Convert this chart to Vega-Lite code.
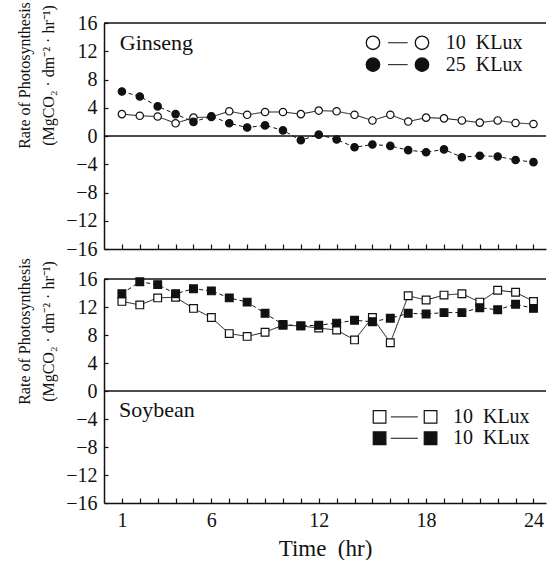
{
  "$schema": "https://vega.github.io/schema/vega-lite/v6.json",
  "padding": {"left": 16, "top": 1, "right": 0, "bottom": 0},
  "background": "white",
  "spacing": 30,
  "bounds": "flush",
  "config": {
    "font": "Liberation Serif",
    "view": {"stroke": null},
    "axis": {"labelFont": "Liberation Serif", "titleFont": "Liberation Serif", "titleFontWeight": "normal", "labelColor": "#111", "titleColor": "#111", "domainColor": "#111", "tickColor": "#111", "grid": false}
  },
  "datasets": {
    "ginseng": [
      {"hour":1,"rate":3.1,"series":"open","light":"10 KLux"},{"hour":2,"rate":2.86,"series":"open","light":"10 KLux"},{"hour":3,"rate":2.76,"series":"open","light":"10 KLux"},{"hour":4,"rate":1.8,"series":"open","light":"10 KLux"},{"hour":5,"rate":2.6,"series":"open","light":"10 KLux"},{"hour":6,"rate":2.7,"series":"open","light":"10 KLux"},{"hour":7,"rate":3.5,"series":"open","light":"10 KLux"},{"hour":8,"rate":3.0,"series":"open","light":"10 KLux"},{"hour":9,"rate":3.4,"series":"open","light":"10 KLux"},{"hour":10,"rate":3.4,"series":"open","light":"10 KLux"},{"hour":11,"rate":3.1,"series":"open","light":"10 KLux"},{"hour":12,"rate":3.6,"series":"open","light":"10 KLux"},{"hour":13,"rate":3.5,"series":"open","light":"10 KLux"},{"hour":14,"rate":3.0,"series":"open","light":"10 KLux"},{"hour":15,"rate":2.2,"series":"open","light":"10 KLux"},{"hour":16,"rate":3.0,"series":"open","light":"10 KLux"},{"hour":17,"rate":2.05,"series":"open","light":"10 KLux"},{"hour":18,"rate":2.6,"series":"open","light":"10 KLux"},{"hour":19,"rate":2.5,"series":"open","light":"10 KLux"},{"hour":20,"rate":2.2,"series":"open","light":"10 KLux"},{"hour":21,"rate":1.9,"series":"open","light":"10 KLux"},{"hour":22,"rate":2.2,"series":"open","light":"10 KLux"},{"hour":23,"rate":1.85,"series":"open","light":"10 KLux"},{"hour":24,"rate":1.7,"series":"open","light":"10 KLux"},
      {"hour":1,"rate":6.3,"series":"filled","light":"25 KLux"},{"hour":2,"rate":5.6,"series":"filled","light":"25 KLux"},{"hour":3,"rate":4.2,"series":"filled","light":"25 KLux"},{"hour":4,"rate":3.1,"series":"filled","light":"25 KLux"},{"hour":5,"rate":2.0,"series":"filled","light":"25 KLux"},{"hour":6,"rate":2.8,"series":"filled","light":"25 KLux"},{"hour":7,"rate":1.8,"series":"filled","light":"25 KLux"},{"hour":8,"rate":1.2,"series":"filled","light":"25 KLux"},{"hour":9,"rate":1.5,"series":"filled","light":"25 KLux"},{"hour":10,"rate":0.8,"series":"filled","light":"25 KLux"},{"hour":11,"rate":-0.6,"series":"filled","light":"25 KLux"},{"hour":12,"rate":0.2,"series":"filled","light":"25 KLux"},{"hour":13,"rate":-0.5,"series":"filled","light":"25 KLux"},{"hour":14,"rate":-1.6,"series":"filled","light":"25 KLux"},{"hour":15,"rate":-1.2,"series":"filled","light":"25 KLux"},{"hour":16,"rate":-1.4,"series":"filled","light":"25 KLux"},{"hour":17,"rate":-2.0,"series":"filled","light":"25 KLux"},{"hour":18,"rate":-2.3,"series":"filled","light":"25 KLux"},{"hour":19,"rate":-1.9,"series":"filled","light":"25 KLux"},{"hour":20,"rate":-3.0,"series":"filled","light":"25 KLux"},{"hour":21,"rate":-2.8,"series":"filled","light":"25 KLux"},{"hour":22,"rate":-2.9,"series":"filled","light":"25 KLux"},{"hour":23,"rate":-3.4,"series":"filled","light":"25 KLux"},{"hour":24,"rate":-3.7,"series":"filled","light":"25 KLux"}
    ],
    "soybean": [
      {"hour":1,"rate":12.8,"series":"open","light":"10 KLux"},{"hour":2,"rate":12.3,"series":"open","light":"10 KLux"},{"hour":3,"rate":13.3,"series":"open","light":"10 KLux"},{"hour":4,"rate":13.4,"series":"open","light":"10 KLux"},{"hour":5,"rate":11.8,"series":"open","light":"10 KLux"},{"hour":6,"rate":10.5,"series":"open","light":"10 KLux"},{"hour":7,"rate":8.2,"series":"open","light":"10 KLux"},{"hour":8,"rate":7.8,"series":"open","light":"10 KLux"},{"hour":9,"rate":8.4,"series":"open","light":"10 KLux"},{"hour":10,"rate":9.4,"series":"open","light":"10 KLux"},{"hour":11,"rate":9.3,"series":"open","light":"10 KLux"},{"hour":12,"rate":9.0,"series":"open","light":"10 KLux"},{"hour":13,"rate":8.7,"series":"open","light":"10 KLux"},{"hour":14,"rate":7.3,"series":"open","light":"10 KLux"},{"hour":15,"rate":10.5,"series":"open","light":"10 KLux"},{"hour":16,"rate":6.9,"series":"open","light":"10 KLux"},{"hour":17,"rate":13.6,"series":"open","light":"10 KLux"},{"hour":18,"rate":13.0,"series":"open","light":"10 KLux"},{"hour":19,"rate":13.7,"series":"open","light":"10 KLux"},{"hour":20,"rate":13.9,"series":"open","light":"10 KLux"},{"hour":21,"rate":12.7,"series":"open","light":"10 KLux"},{"hour":22,"rate":14.4,"series":"open","light":"10 KLux"},{"hour":23,"rate":14.1,"series":"open","light":"10 KLux"},{"hour":24,"rate":12.8,"series":"open","light":"10 KLux"},
      {"hour":1,"rate":13.9,"series":"filled","light":"10 KLux"},{"hour":2,"rate":15.6,"series":"filled","light":"10 KLux"},{"hour":3,"rate":15.2,"series":"filled","light":"10 KLux"},{"hour":4,"rate":13.9,"series":"filled","light":"10 KLux"},{"hour":5,"rate":14.6,"series":"filled","light":"10 KLux"},{"hour":6,"rate":14.3,"series":"filled","light":"10 KLux"},{"hour":7,"rate":13.3,"series":"filled","light":"10 KLux"},{"hour":8,"rate":12.7,"series":"filled","light":"10 KLux"},{"hour":9,"rate":11.1,"series":"filled","light":"10 KLux"},{"hour":10,"rate":9.5,"series":"filled","light":"10 KLux"},{"hour":11,"rate":9.3,"series":"filled","light":"10 KLux"},{"hour":12,"rate":9.4,"series":"filled","light":"10 KLux"},{"hour":13,"rate":9.7,"series":"filled","light":"10 KLux"},{"hour":14,"rate":10.1,"series":"filled","light":"10 KLux"},{"hour":15,"rate":9.9,"series":"filled","light":"10 KLux"},{"hour":16,"rate":10.4,"series":"filled","light":"10 KLux"},{"hour":17,"rate":11.1,"series":"filled","light":"10 KLux"},{"hour":18,"rate":11.0,"series":"filled","light":"10 KLux"},{"hour":19,"rate":11.2,"series":"filled","light":"10 KLux"},{"hour":20,"rate":11.2,"series":"filled","light":"10 KLux"},{"hour":21,"rate":11.9,"series":"filled","light":"10 KLux"},{"hour":22,"rate":11.6,"series":"filled","light":"10 KLux"},{"hour":23,"rate":12.4,"series":"filled","light":"10 KLux"},{"hour":24,"rate":11.8,"series":"filled","light":"10 KLux"}
    ]
  },
  "vconcat": [
    {
      "width": 442, "height": 226,
      "resolve": {"axis": {"x": "independent", "y": "independent"}},
      "layer": [
        {
          "data": {"name": "ginseng"},
          "mark": {"type": "line", "color": "#111", "strokeWidth": 1},
          "encoding": {
            "x": {"field": "hour", "type": "quantitative", "scale": {"domain": [0, 24.7], "nice": false, "zero": false},
                  "axis": {"values": [1,2,3,4,5,6,7,8,9,10,11,12,13,14,15,16,17,18,19,20,21,22,23,24], "labels": false, "ticks": true, "tickSize": -5, "tickWidth": 1.2, "tickColor": "#111",
                           "domainColor": "#111", "domainWidth": 1.5, "grid": false, "title": null}},
            "y": {"field": "rate", "type": "quantitative", "scale": {"domain": [-16, 16], "nice": false},
                  "axis": {"values": [-16,-12,-8,-4,0,4,8,12,16], "ticks": true, "tickSize": -4, "tickWidth": 1.2, "tickColor": "#111", "labelPadding": 11, "labelOverlap": false, "labelBound": false,
                           "labelFont": "Liberation Serif", "labelFontSize": 20, "labelColor": "#111",
                           "domainColor": "#111", "domainWidth": 1.5, "grid": false,
                           "labelExpr": "datum.value < 0 ? '−' + abs(datum.value) : datum.label",
                           "title": ["Rate of Photosynthesis", "(MgCO₂ · dm⁻² · hr⁻¹)"], "titleFont": "Liberation Serif", "titleFontSize": 16, "titleFontWeight": "normal", "titleColor": "#111",
                           "titleLineHeight": 24, "titlePadding": 9, "titleY": 52}},
            "detail": {"field": "series"},
            "strokeDash": {"field": "series", "type": "nominal", "scale": {"domain": ["open", "filled"], "range": [[1, 0], [4, 3]]}, "legend": null}
          }
        },
        {"data": {"values": [{}]}, "mark": {"type": "rule", "color": "#111", "strokeWidth": 1.3}, "encoding": {"y": {"datum": 0, "type": "quantitative", "axis": null}}},
        {"data": {"values": [{}]}, "mark": {"type": "rule", "color": "#111", "strokeWidth": 1.3}, "encoding": {"y": {"datum": 16, "type": "quantitative", "axis": null}}},
        {
          "data": {"name": "ginseng"},
          "mark": {"type": "point", "shape": "circle", "filled": true, "stroke": "#111", "strokeWidth": 1.2, "size": 55, "opacity": 1},
          "encoding": {
            "x": {"field": "hour", "type": "quantitative", "axis": null},
            "y": {"field": "rate", "type": "quantitative", "axis": null},
            "fill": {"field": "series", "type": "nominal", "scale": {"domain": ["open", "filled"], "range": ["white", "#111"]}, "legend": null}
          }
        },
        {"data": {"values": [{}]}, "mark": {"type": "text", "text": "Ginseng", "align": "left", "baseline": "middle", "fontSize": 22, "color": "#111"},
         "encoding": {"x": {"datum": 0.88, "type": "quantitative", "axis": null}, "y": {"datum": 13.2, "type": "quantitative", "axis": null}}},
        {"data": {"values": [{}]}, "mark": {"type": "point", "shape": "circle", "filled": true, "fill": "white", "stroke": "#111", "strokeWidth": 1.3, "size": 180, "opacity": 1},
         "encoding": {"x": {"datum": 15.03, "type": "quantitative", "axis": null}, "y": {"datum": 13.2, "type": "quantitative", "axis": null}}},
        {"data": {"values": [{}]}, "mark": {"type": "point", "shape": "circle", "filled": true, "fill": "white", "stroke": "#111", "strokeWidth": 1.3, "size": 180, "opacity": 1},
         "encoding": {"x": {"datum": 17.77, "type": "quantitative", "axis": null}, "y": {"datum": 13.2, "type": "quantitative", "axis": null}}},
        {"data": {"values": [{}]}, "mark": {"type": "rule", "color": "#111", "strokeWidth": 1},
         "encoding": {"x": {"datum": 15.87, "type": "quantitative", "axis": null}, "x2": {"datum": 16.97}, "y": {"datum": 13.2, "type": "quantitative", "axis": null}}},
        {"data": {"values": [{}]}, "mark": {"type": "text", "text": "10\u00a0\u00a0KLux", "align": "left", "baseline": "middle", "fontSize": 20, "color": "#111"},
         "encoding": {"x": {"datum": 19.1, "type": "quantitative", "axis": null}, "y": {"datum": 13.2, "type": "quantitative", "axis": null}}},
        {"data": {"values": [{}]}, "mark": {"type": "point", "shape": "circle", "filled": true, "fill": "#111", "stroke": "#111", "strokeWidth": 1.3, "size": 180, "opacity": 1},
         "encoding": {"x": {"datum": 15.03, "type": "quantitative", "axis": null}, "y": {"datum": 10.1, "type": "quantitative", "axis": null}}},
        {"data": {"values": [{}]}, "mark": {"type": "point", "shape": "circle", "filled": true, "fill": "#111", "stroke": "#111", "strokeWidth": 1.3, "size": 180, "opacity": 1},
         "encoding": {"x": {"datum": 17.77, "type": "quantitative", "axis": null}, "y": {"datum": 10.1, "type": "quantitative", "axis": null}}},
        {"data": {"values": [{}]}, "mark": {"type": "rule", "color": "#111", "strokeWidth": 1},
         "encoding": {"x": {"datum": 15.87, "type": "quantitative", "axis": null}, "x2": {"datum": 16.97}, "y": {"datum": 10.1, "type": "quantitative", "axis": null}}},
        {"data": {"values": [{}]}, "mark": {"type": "text", "text": "25\u00a0\u00a0KLux", "align": "left", "baseline": "middle", "fontSize": 20, "color": "#111"},
         "encoding": {"x": {"datum": 19.1, "type": "quantitative", "axis": null}, "y": {"datum": 10.1, "type": "quantitative", "axis": null}}}
      ]
    },
    {
      "width": 442, "height": 224,
      "resolve": {"axis": {"x": "independent", "y": "independent"}},
      "layer": [
        {
          "data": {"name": "soybean"},
          "mark": {"type": "line", "color": "#111", "strokeWidth": 1},
          "encoding": {
            "x": {"field": "hour", "type": "quantitative", "scale": {"domain": [0, 24.7], "nice": false, "zero": false},
                  "axis": {"values": [1,2,3,4,5,6,7,8,9,10,11,12,13,14,15,16,17,18,19,20,21,22,23,24], "ticks": true, "tickSize": -5, "tickWidth": 1.2, "tickColor": "#111", "labelPadding": 12, "labelOverlap": false, "labelBound": false,
                           "labelFont": "Liberation Serif", "labelFontSize": 20, "labelColor": "#111",
                           "domainColor": "#111", "domainWidth": 1.5, "grid": false,
                           "labelExpr": "indexof([1,6,12,18,24], datum.value) >= 0 ? datum.label : ''",
                           "title": "Time\u00a0\u00a0(hr)", "titleFont": "Liberation Serif", "titleFontSize": 23, "titleFontWeight": "normal", "titleColor": "#111", "titlePadding": 7}},
            "y": {"field": "rate", "type": "quantitative", "scale": {"domain": [-16, 16], "nice": false},
                  "axis": {"values": [-16,-12,-8,-4,0,4,8,12,16], "ticks": true, "tickSize": -4, "tickWidth": 1.2, "tickColor": "#111", "labelPadding": 11, "labelOverlap": false, "labelBound": false,
                           "labelFont": "Liberation Serif", "labelFontSize": 20, "labelColor": "#111",
                           "domainColor": "#111", "domainWidth": 1.5, "grid": false,
                           "labelExpr": "datum.value < 0 ? '−' + abs(datum.value) : datum.label",
                           "title": ["Rate of Photosynthesis", "(MgCO₂ · dm⁻² · hr⁻¹)"], "titleFont": "Liberation Serif", "titleFontSize": 16, "titleFontWeight": "normal", "titleColor": "#111",
                           "titleLineHeight": 24, "titlePadding": 9, "titleY": 52}},
            "detail": {"field": "series"},
            "strokeDash": {"field": "series", "type": "nominal", "scale": {"domain": ["open", "filled"], "range": [[1, 0], [4, 3]]}, "legend": null}
          }
        },
        {"data": {"values": [{}]}, "mark": {"type": "rule", "color": "#111", "strokeWidth": 1.3}, "encoding": {"y": {"datum": 0, "type": "quantitative", "axis": null}}},
        {"data": {"values": [{}]}, "mark": {"type": "rule", "color": "#111", "strokeWidth": 1.3}, "encoding": {"y": {"datum": 16, "type": "quantitative", "axis": null}}},
        {
          "data": {"name": "soybean"},
          "mark": {"type": "point", "shape": "square", "filled": true, "stroke": "#111", "strokeWidth": 1.2, "size": 60, "opacity": 1},
          "encoding": {
            "x": {"field": "hour", "type": "quantitative", "axis": null},
            "y": {"field": "rate", "type": "quantitative", "axis": null},
            "fill": {"field": "series", "type": "nominal", "scale": {"domain": ["open", "filled"], "range": ["white", "#111"]}, "legend": null}
          }
        },
        {"data": {"values": [{}]}, "mark": {"type": "text", "text": "Soybean", "align": "left", "baseline": "middle", "fontSize": 22, "color": "#111"},
         "encoding": {"x": {"datum": 0.84, "type": "quantitative", "axis": null}, "y": {"datum": -2.7, "type": "quantitative", "axis": null}}},
        {"data": {"values": [{}]}, "mark": {"type": "point", "shape": "square", "filled": true, "fill": "white", "stroke": "#111", "strokeWidth": 1.2, "size": 160, "opacity": 1},
         "encoding": {"x": {"datum": 15.4, "type": "quantitative", "axis": null}, "y": {"datum": -3.7, "type": "quantitative", "axis": null}}},
        {"data": {"values": [{}]}, "mark": {"type": "point", "shape": "square", "filled": true, "fill": "white", "stroke": "#111", "strokeWidth": 1.2, "size": 160, "opacity": 1},
         "encoding": {"x": {"datum": 18.25, "type": "quantitative", "axis": null}, "y": {"datum": -3.7, "type": "quantitative", "axis": null}}},
        {"data": {"values": [{}]}, "mark": {"type": "rule", "color": "#111", "strokeWidth": 1},
         "encoding": {"x": {"datum": 16.03, "type": "quantitative", "axis": null}, "x2": {"datum": 17.54}, "y": {"datum": -3.7, "type": "quantitative", "axis": null}}},
        {"data": {"values": [{}]}, "mark": {"type": "text", "text": "10\u00a0\u00a0KLux", "align": "left", "baseline": "middle", "fontSize": 20, "color": "#111"},
         "encoding": {"x": {"datum": 19.5, "type": "quantitative", "axis": null}, "y": {"datum": -3.7, "type": "quantitative", "axis": null}}},
        {"data": {"values": [{}]}, "mark": {"type": "point", "shape": "square", "filled": true, "fill": "#111", "stroke": "#111", "strokeWidth": 1.2, "size": 160, "opacity": 1},
         "encoding": {"x": {"datum": 15.4, "type": "quantitative", "axis": null}, "y": {"datum": -6.75, "type": "quantitative", "axis": null}}},
        {"data": {"values": [{}]}, "mark": {"type": "point", "shape": "square", "filled": true, "fill": "#111", "stroke": "#111", "strokeWidth": 1.2, "size": 160, "opacity": 1},
         "encoding": {"x": {"datum": 18.25, "type": "quantitative", "axis": null}, "y": {"datum": -6.75, "type": "quantitative", "axis": null}}},
        {"data": {"values": [{}]}, "mark": {"type": "rule", "color": "#111", "strokeWidth": 1},
         "encoding": {"x": {"datum": 16.03, "type": "quantitative", "axis": null}, "x2": {"datum": 17.54}, "y": {"datum": -6.75, "type": "quantitative", "axis": null}}},
        {"data": {"values": [{}]}, "mark": {"type": "text", "text": "10\u00a0\u00a0KLux", "align": "left", "baseline": "middle", "fontSize": 20, "color": "#111"},
         "encoding": {"x": {"datum": 19.5, "type": "quantitative", "axis": null}, "y": {"datum": -6.75, "type": "quantitative", "axis": null}}}
      ]
    }
  ]
}
